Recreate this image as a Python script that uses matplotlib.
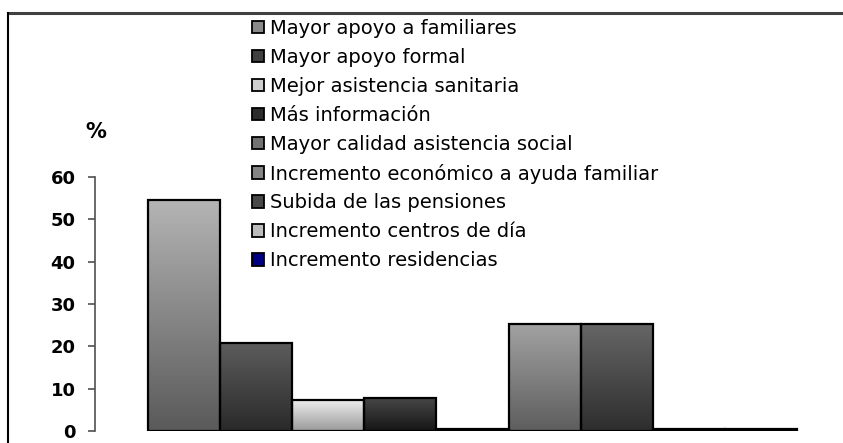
import numpy as np
import matplotlib
matplotlib.use("Agg")
import matplotlib.pyplot as plt
from matplotlib.patches import Patch
from matplotlib.lines import Line2D
from matplotlib.colors import to_rgb

categories = ["Mayor apoyo a familiares", "Mayor apoyo formal", "Mejor asistencia sanitaria",
              "Más información", "Mayor calidad asistencia social",
              "Incremento económico a ayuda familiar", "Subida de las pensiones",
              "Incremento centros de día", "Incremento residencias"]
values = [54.6, 20.7, 7.4, 7.7, 0.5, 25.3, 25.3, 0.5, 0.5]
yticks = [0, 10, 20, 30, 40, 50, 60]

grad_top = ["#b4b4b4", "#5c5c5c", "#f0f0f0", "#464646", "#8a8a8a", "#a2a2a2", "#666666", "#d4d4d4", "#000080"]
grad_bot = ["#5a5a5a", "#2a2a2a", "#9a9a9a", "#161616", "#505050", "#5e5e5e", "#2e2e2e", "#909090", "#000080"]
legend_cols = ["#8a8a8a", "#404040", "#cfcfcf", "#2c2c2c", "#727272", "#858585", "#484848", "#bcbcbc", "#000080"]

W, H = 843, 443
fig = plt.figure(figsize=(W / 100, H / 100), dpi=100)
fig.patch.set_facecolor("white")

ax_l, ax_b, ax_r, ax_t = 95, 12, 843, 266
ax = fig.add_axes([ax_l / W, ax_b / H, (ax_r - ax_l) / W, (ax_t - ax_b) / H])
x = np.arange(len(values))
ax.set_xlim(-1.235, 9.138)
ax.set_ylim(0, 60)

bars = ax.bar(x, values, width=1.0, color="none", edgecolor="black", linewidth=1.6, zorder=3)
for b, t, bt in zip(bars, grad_top, grad_bot):
    ct, cb = np.array(to_rgb(t)), np.array(to_rgb(bt))
    n = 64
    f = np.linspace(0, 1, n)[:, None]
    img = (ct * (1 - f) + cb * f).reshape(n, 1, 3)
    x0, y0 = b.get_x(), b.get_y()
    w, h = b.get_width(), b.get_height()
    im = ax.imshow(img, extent=[x0, x0 + w, y0, y0 + h], aspect="auto", zorder=2,
                   origin="upper", interpolation="bilinear")
    im.set_clip_path(b)

for s in ["top", "right", "bottom"]:
    ax.spines[s].set_visible(False)
ax.spines["left"].set_color("#505050")
ax.spines["left"].set_linewidth(1.2)
ax.set_xticks([])
ax.set_yticks(yticks)
ax.set_yticklabels([str(v) for v in yticks], fontsize=13, fontweight="bold")
ax.tick_params(axis="y", length=5, width=1.2, color="#505050", pad=9)
ax.set_facecolor("none")

fig.text(96 / W, 1 - 132 / H, "%", fontsize=15, fontweight="bold", ha="center", va="center")

handles = [Patch(facecolor=c, edgecolor="black", linewidth=1.3) for c in legend_cols]
fig.legend(handles, categories, loc="upper left", bbox_to_anchor=(252 / W, 1 - 19 / H),
           frameon=False, fontsize=14, handlelength=0.62, handleheight=0.62,
           handletextpad=0.3, labelspacing=0.51, borderpad=0, borderaxespad=0)

fig.add_artist(Line2D([7.5 / W, 1], [1 - 13 / H, 1 - 13 / H], color="#404040", linewidth=2.2,
                      transform=fig.transFigure))
fig.add_artist(Line2D([7.5 / W, 7.5 / W], [0, 1 - 13 / H], color="black", linewidth=1.5,
                      transform=fig.transFigure))

fig.savefig("out.png", dpi=100)
